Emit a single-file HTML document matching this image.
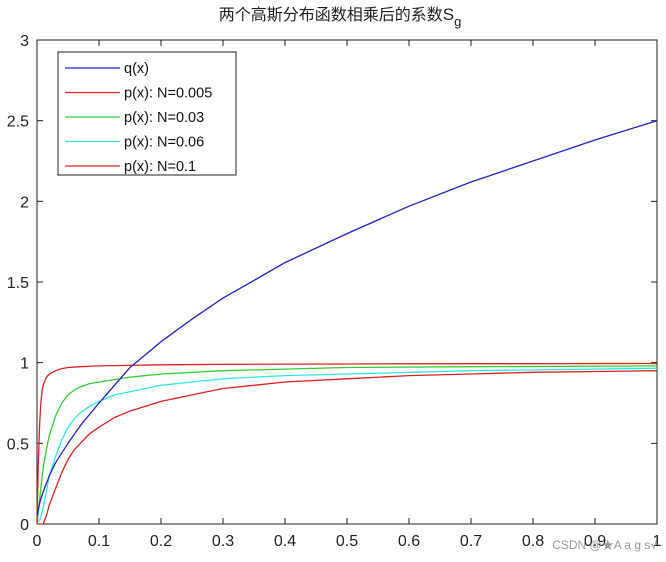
<!DOCTYPE html>
<html><head><meta charset="utf-8"><style>
body{margin:0;background:#fff;}
svg text{font-family:"Liberation Sans","Noto Sans CJK SC",sans-serif;}
</style></head><body>
<svg id="chart" width="666" height="557" viewBox="0 0 666 557">
<rect width="666" height="557" fill="#fff"/>
<text x="340" y="20" text-anchor="middle" font-size="16" fill="#222" font-family="'Noto Serif CJK SC','Noto Sans CJK SC',serif">两个高斯分布函数相乘后的系数<tspan font-family="Liberation Sans" font-size="17">S</tspan><tspan font-family="Liberation Sans" font-size="13" dy="6">g</tspan></text>
<g id="axes"></g>
<g id="series"></g>
<g>
<rect x="58" y="52" width="178" height="123" fill="#fff" stroke="#222" stroke-width="1"/>
</g>
<g id="legend-items"></g>
<text x="657" y="549" text-anchor="end" font-size="12" fill="#999">CSDN @★A a g s√</text>
</svg>
<script>
const xTicks=[0,0.1,0.2,0.3,0.4,0.5,0.6,0.7,0.8,0.9,1];
const xTickLabels=["0","0.1","0.2","0.3","0.4","0.5","0.6","0.7","0.8","0.9","1"];
const yTicks=[0,0.5,1,1.5,2,2.5,3];
const yTickLabels=["0","0.5","1","1.5","2","2.5","3"];
const qX=[0,0.005,0.01,0.02,0.03,0.05,0.07,0.1,0.125,0.15,0.2,0.25,0.3,0.35,0.4,0.5,0.6,0.7,0.8,0.9,1];
const qY=[0.05,0.14,0.2,0.3,0.38,0.5,0.61,0.75,0.86,0.97,1.13,1.27,1.4,1.51,1.62,1.8,1.97,2.12,2.25,2.38,2.5];
const p005X=[0,0.002,0.004,0.006,0.008,0.01,0.015,0.02,0.03,0.04,0.05,0.07,0.1,0.2,0.3,0.6,1];
const p005Y=[0,0.35,0.6,0.74,0.82,0.86,0.91,0.93,0.95,0.963,0.97,0.975,0.98,0.987,0.99,0.993,0.995];
const p03X=[0,0.005,0.01,0.015,0.02,0.03,0.04,0.05,0.06,0.07,0.085,0.1,0.15,0.2,0.3,0.4,0.5,0.7,1];
const p03Y=[0,0.18,0.35,0.46,0.55,0.67,0.75,0.8,0.83,0.85,0.87,0.88,0.91,0.93,0.95,0.96,0.97,0.975,0.98];
const p06X=[0,0.005,0.01,0.015,0.02,0.03,0.04,0.05,0.06,0.07,0.085,0.1,0.125,0.15,0.2,0.25,0.3,0.4,0.5,0.7,1];
const p06Y=[0,0.03,0.1,0.2,0.3,0.42,0.52,0.6,0.65,0.69,0.73,0.76,0.8,0.82,0.86,0.88,0.9,0.92,0.93,0.95,0.965];
const p1X=[0,0.01,0.015,0.02,0.03,0.04,0.05,0.06,0.07,0.085,0.1,0.125,0.15,0.2,0.25,0.3,0.35,0.4,0.5,0.6,0.7,0.8,0.9,1];
const p1Y=[0,0,0.05,0.12,0.22,0.32,0.4,0.46,0.5,0.56,0.6,0.66,0.7,0.76,0.8,0.84,0.86,0.88,0.9,0.92,0.93,0.94,0.945,0.95];
const L=37,R=657,T=40,B=524;
const sx=v=>L+(R-L)*v, sy=v=>B-(B-T)*v/3;
const NS="http://www.w3.org/2000/svg";
function mk(tag,attrs,parent){const e=document.createElementNS(NS,tag);for(const k in attrs)e.setAttribute(k,attrs[k]);parent.appendChild(e);return e;}
const ax=document.getElementById('axes');
const frame=mk('rect',{x:L,y:T,width:R-L,height:B-T,fill:'none',stroke:'#222','stroke-width':1},ax);


xTicks.forEach((v,i)=>{
 const x=sx(v);
 const t1=mk('line',{x1:x,x2:x,y1:B,y2:B-6,stroke:'#222'},ax);
 
 
 const t2=mk('line',{x1:x,x2:x,y1:T,y2:T+6,stroke:'#222'},ax);
 
 
 const tx=mk('text',{x:x,y:B+22,'text-anchor':'middle','font-size':16,fill:'#222'},ax);
 tx.textContent=xTickLabels[i];
 
 
});
yTicks.forEach((v,i)=>{
 const y=sy(v);
 const t1=mk('line',{x1:L,x2:L+6,y1:y,y2:y,stroke:'#222'},ax);
 
 
 const t2=mk('line',{x1:R,x2:R-6,y1:y,y2:y,stroke:'#222'},ax);
 
 
 const tx=mk('text',{x:L-8,y:y+6,'text-anchor':'end','font-size':16,fill:'#222'},ax);
 tx.textContent=yTickLabels[i];
 
 
});
const sg=document.getElementById('series');
function line(xs,ys,color,name){
 const pts=xs.map((x,i)=>sx(x).toFixed(1)+','+sy(ys[i]).toFixed(1)).join(' ');
 const p=mk('polyline',{points:pts,fill:'none',stroke:color,'stroke-width':1.3,'stroke-linejoin':'round'},sg);
 
 
}
line(p1X,p1Y,'#e02020','line-p-n0.1');
line(p06X,p06Y,'#30e8e8','line-p-n0.06');
line(p03X,p03Y,'#30d030','line-p-n0.03');
line(p005X,p005Y,'#e02020','line-p-n0.005');
line(qX,qY,'#2020c8','line-q');
const names=["q(x)","p(x): N=0.005","p(x): N=0.03","p(x): N=0.06","p(x): N=0.1"];
const cols=['#2020c8','#e02020','#30d030','#30e8e8','#e02020'];
const lg=document.getElementById('legend-items');
names.forEach((n,i)=>{
 const y=68+i*24.5;
 const l=mk('line',{x1:65,x2:120,y1:y,y2:y,stroke:cols[i],'stroke-width':1.3},lg);
 
 
 const t=mk('text',{x:124,y:y+5,'font-size':14.5,fill:'#111'},lg);
 t.textContent=n;
 
 
});
</script>
</body></html>
